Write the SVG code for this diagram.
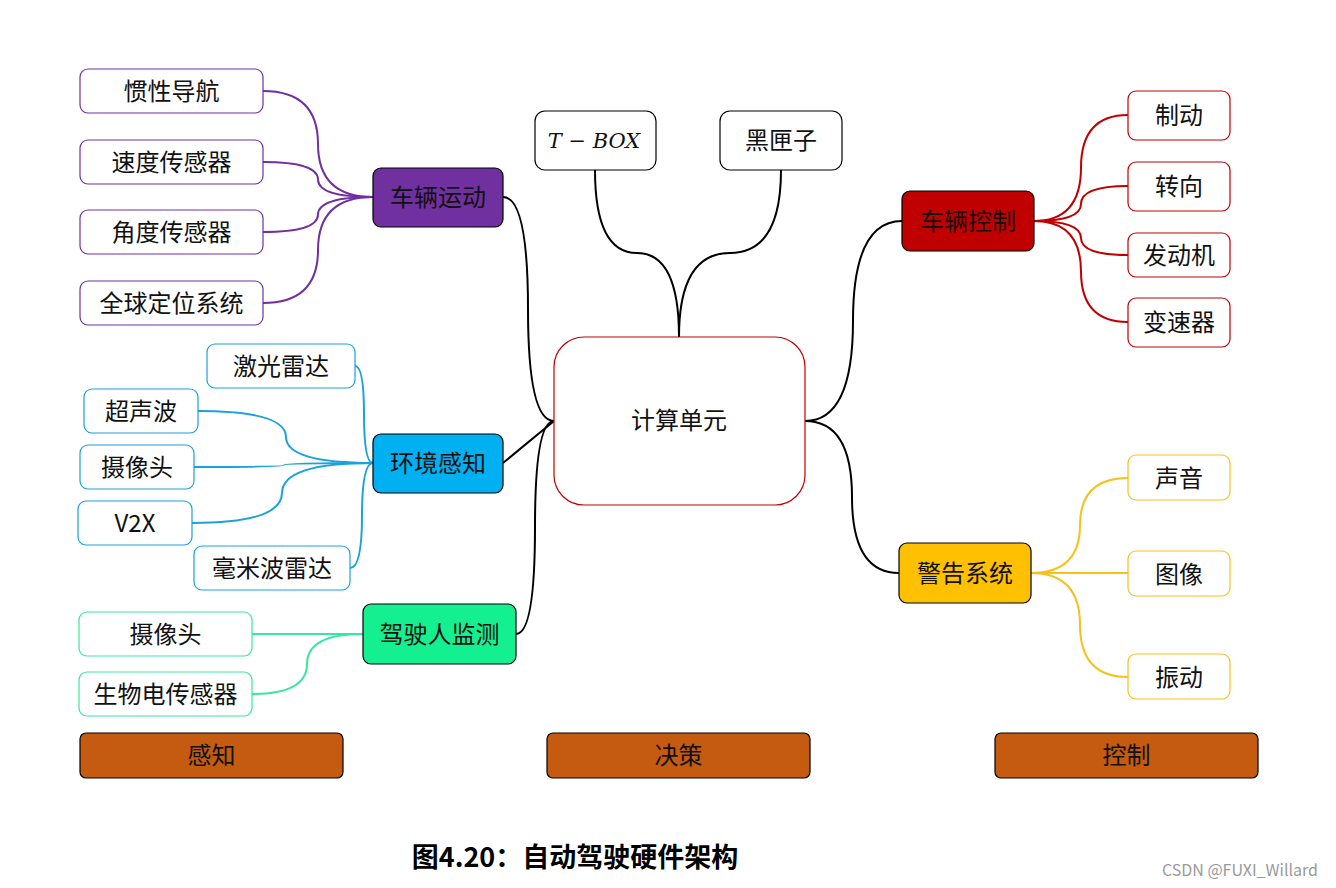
<svg xmlns="http://www.w3.org/2000/svg" width="1336" height="888" viewBox="0 0 1336 888">
<style>
text{font-family:"Noto Sans CJK SC","Noto Sans",sans-serif;font-size:24px;fill:#111;text-anchor:middle}
.c{fill:#fff;stroke-width:1.2}
.p{stroke:#000;stroke-width:1.2}
.pu{stroke:#7030a0}
.rd{stroke:#c00000}
.yl{stroke:#f5c21b}
.bl{stroke:#1ba1dc}
.gr{stroke:#38e6a2}
.bk{stroke:#000}
#connectors path{fill:none;stroke-width:2}
.bar{fill:#c55a11;stroke:#000;stroke-width:1.2}
</style>
<rect width="1336" height="888" fill="#fff"/>
<g id="connectors">
<path class="pu" d="M263,91 Q318,91 318,144 Q318,197 373,197"/>
<path class="pu" d="M263,162 Q318,162 318,179.5 Q318,197 373,197"/>
<path class="pu" d="M263,232 Q318,232 318,214.5 Q318,197 373,197"/>
<path class="pu" d="M263,303 Q318,303 318,250 Q318,197 373,197"/>
<path class="bk" d="M503,197 Q528,197 528,309 Q528,421 554,421"/>
<path class="bk" d="M503,463 L554,421"/>
<path class="bk" d="M516,634 Q535,634 535,527 Q535,421 554,421"/>
<path class="bk" d="M595,170 Q595,253 637,253 Q679,253 679,337"/>
<path class="bk" d="M781,170 Q781,253 730,253 Q679,253 679,337"/>
<path class="bk" d="M805,421 Q853,421 853,321 Q853,221 902,221"/>
<path class="bk" d="M805,421 Q852,421 852,497 Q852,573 899,573"/>
<path class="rd" d="M1034,221 Q1081,221 1081,167.5 Q1081,115 1128,115"/>
<path class="rd" d="M1034,221 Q1081,221 1081,204 Q1081,186 1128,186"/>
<path class="rd" d="M1034,221 Q1081,221 1081,238 Q1081,255 1128,255"/>
<path class="rd" d="M1034,221 Q1081,221 1081,271.5 Q1081,322 1128,322"/>
<path class="yl" d="M1031,573 Q1080,573 1080,525 Q1080,478 1128,478"/>
<path class="yl" d="M1031,573 L1128,573"/>
<path class="yl" d="M1031,573 Q1080,573 1080,625 Q1080,677 1128,677"/>
<path class="bl" d="M355,366 Q364,366 364,414.5 Q364,463 373,463"/>
<path class="bl" d="M198,411 Q286,411 286,437 Q286,463 373,463"/>
<path class="bl" d="M194,467 Q284,467 284,465 Q284,463 373,463"/>
<path class="bl" d="M192,523 Q282,523 282,493 Q282,463 373,463"/>
<path class="bl" d="M350,568 Q362,568 362,515.5 Q362,463 373,463"/>
<path class="gr" d="M252,634 L363,634"/>
<path class="gr" d="M252,694 Q307,694 307,664 Q307,634 363,634"/>
</g>
<g id="center"><rect x="554" y="337" width="251" height="168" rx="30" class="c" style="stroke:#c00000"/><text x="679" y="429">计算单元</text></g>
<g id="tbox"><rect x="535" y="111" width="121" height="59" rx="10" class="c bk"/><text x="594" y="148" style="font-family:'DejaVu Serif','Liberation Serif',serif;font-style:italic;font-size:21px">T − BOX</text></g>
<g id="blackbox"><rect x="720" y="111" width="122" height="59" rx="10" class="c bk"/><text x="781" y="149">黑匣子</text></g>
<g id="vehmotion"><rect x="373" y="168" width="130" height="59" rx="8" class="p" fill="#7030a0"/><text x="438" y="206">车辆运动</text></g>
<g id="n1"><rect x="80" y="69" width="183" height="44" rx="8" class="c pu"/><text x="171.5" y="100">惯性导航</text></g>
<g id="n2"><rect x="80" y="140" width="183" height="44" rx="8" class="c pu"/><text x="171.5" y="171">速度传感器</text></g>
<g id="n3"><rect x="80" y="210" width="183" height="44" rx="8" class="c pu"/><text x="171.5" y="241">角度传感器</text></g>
<g id="n4"><rect x="80" y="281" width="183" height="44" rx="8" class="c pu"/><text x="171.5" y="312">全球定位系统</text></g>
<g id="env"><rect x="373" y="434" width="130" height="59" rx="8" class="p" fill="#00b0f0"/><text x="438" y="472">环境感知</text></g>
<g id="e1"><rect x="207" y="344" width="148" height="44" rx="8" class="c bl"/><text x="281" y="375">激光雷达</text></g>
<g id="e2"><rect x="84" y="389" width="114" height="44" rx="8" class="c bl"/><text x="141" y="420">超声波</text></g>
<g id="e3"><rect x="80" y="445" width="114" height="44" rx="8" class="c bl"/><text x="137" y="476">摄像头</text></g>
<g id="e4"><rect x="78" y="501" width="114" height="44" rx="8" class="c bl"/><text x="135" y="532">V2X</text></g>
<g id="e5"><rect x="194" y="546" width="156" height="44" rx="8" class="c bl"/><text x="272" y="577">毫米波雷达</text></g>
<g id="driver"><rect x="363" y="604" width="153" height="60" rx="8" class="p" fill="#14f090"/><text x="439.5" y="643">驾驶人监测</text></g>
<g id="d1"><rect x="79" y="612" width="173" height="44" rx="8" class="c gr"/><text x="165.5" y="643">摄像头</text></g>
<g id="d2"><rect x="79" y="672" width="173" height="44" rx="8" class="c gr"/><text x="165.5" y="703">生物电传感器</text></g>
<g id="vehctrl"><rect x="902" y="191" width="132" height="60" rx="8" class="p" fill="#c00000"/><text x="968" y="230">车辆控制</text></g>
<g id="r1"><rect x="1128" y="91" width="102" height="49" rx="8" class="c rd"/><text x="1179" y="124">制动</text></g>
<g id="r2"><rect x="1128" y="162" width="102" height="49" rx="8" class="c rd"/><text x="1179" y="195">转向</text></g>
<g id="r3"><rect x="1128" y="233" width="102" height="44" rx="8" class="c rd"/><text x="1179" y="264">发动机</text></g>
<g id="r4"><rect x="1128" y="298" width="102" height="49" rx="8" class="c rd"/><text x="1179" y="331">变速器</text></g>
<g id="warn"><rect x="899" y="543" width="132" height="60" rx="8" class="p" fill="#ffc000"/><text x="965" y="582">警告系统</text></g>
<g id="w1"><rect x="1128" y="455" width="102" height="45" rx="8" class="c yl"/><text x="1179" y="487">声音</text></g>
<g id="w2"><rect x="1128" y="551" width="102" height="45" rx="8" class="c yl"/><text x="1179" y="583">图像</text></g>
<g id="w3"><rect x="1128" y="654" width="102" height="45" rx="8" class="c yl"/><text x="1179" y="686">振动</text></g>
<g id="bar1"><rect x="80" y="733" width="263" height="45" rx="6" class="bar"/><text x="211.5" y="764">感知</text></g>
<g id="bar2"><rect x="547" y="733" width="263" height="45" rx="6" class="bar"/><text x="678.5" y="764">决策</text></g>
<g id="bar3"><rect x="995" y="733" width="263" height="45" rx="6" class="bar"/><text x="1126.5" y="764">控制</text></g>
<g id="caption"><text x="575" y="867" style="font-weight:bold;font-size:27px;fill:#000">图4.20：自动驾驶硬件架构</text></g>
<text x="1240" y="876" style="font-size:16px;fill:#9a9a9a">CSDN @FUXI_Willard</text>
</svg>
